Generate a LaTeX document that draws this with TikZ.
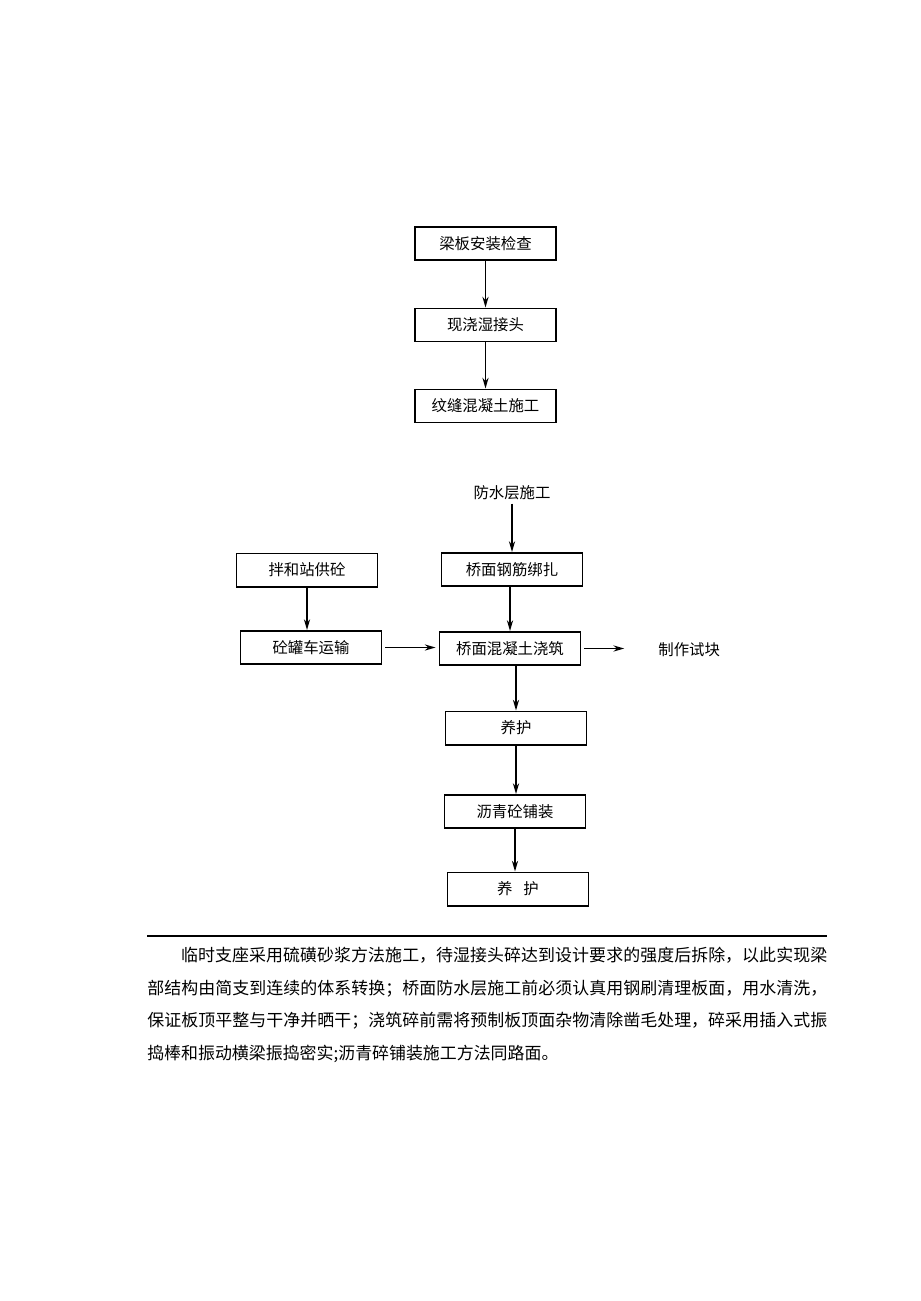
\documentclass[tikz,border=0pt]{standalone}
\usepackage{fontspec}
\setmainfont{Noto Sans CJK SC}
\usetikzlibrary{arrows,arrows.meta,positioning}
\XeTeXlinebreaklocale "zh"
\XeTeXlinebreakskip=0pt plus 2pt

\tikzset{
	stepbox/.style={draw,line width=1.1pt,minimum width=3.22cm,minimum height=0.76cm,inner sep=2pt,font=\fontsize{10pt}{12pt}\selectfont},
	plainlabel/.style={inner sep=2pt,font=\fontsize{10pt}{12pt}\selectfont},
	flow/.style={->,>={Stealth[length=7pt,width=4pt]},line width=1pt},
	notes/.style={inner sep=0pt,text width=15.52cm,align=justify,font=\fontsize{11pt}{21.2pt}\selectfont}
}

\begin{document}
\begin{tikzpicture}[x=0.022826cm,y=-0.022826cm]
	\useasboundingbox (0,0) rectangle (920,1301);

	% schema du haut
	\node [stepbox] (check) at (485.5,243.5) {梁板安装检查};
	\node [stepbox] (joint) at (485.5,325) {现浇湿接头};
	\node [stepbox] (seam) at (485.5,406) {纹缝混凝土施工};

	\draw [flow] (check) -- (joint);
	\draw [flow] (joint) -- (seam);

	% schema du bas
	\node [plainlabel] (water) at (512,493) {防水层施工};
	\node [stepbox] (steel) at (512,569.5) {桥面钢筋绑扎};
	\node [stepbox] (mix) at (307,570) {拌和站供砼};
	\node [stepbox] (truck) at (311,647.5) {砼罐车运输};
	\node [stepbox] (pour) at (510,648.5) {桥面混凝土浇筑};
	\node [plainlabel,anchor=west] (sample) at (655,650) {制作试块};
	\node [stepbox] (cure) at (516,728) {养护};
	\node [stepbox] (asphalt) at (515,811.5) {沥青砼铺装};
	\node [stepbox] (curelast) at (518,889) {养\hspace{0.7em}护};

	\draw [flow] (water) -- (steel);
	\draw [flow] (steel.south -| pour) -- (pour.north);
	\draw [flow] (mix.south) -- (mix.south |- truck.north);
	\draw [flow,shorten <=2pt,shorten >=2pt] (truck.east) -- (truck.east -| pour.west);
	\draw [flow,shorten <=2pt,shorten >=20pt] (pour.east) -- (pour.east -| sample.west);
	\draw [flow] (pour.south -| cure) -- (cure.north);
	\draw [flow] (cure.south) -- (cure.south |- asphalt.north);
	\draw [flow] (asphalt.south) -- (asphalt.south |- curelast.north);

	% texte
	\coordinate (ruleleft) at (147,936);
	\coordinate (ruleright) at (827,936);
	\draw [line width=0.8pt] (ruleleft) -- (ruleright);

	\node [notes,anchor=north west] (remarks) at (147,947) {\hspace*{2em}临时支座采用硫磺砂浆方法施工，待湿接头碎达到设计要求的强度后拆除，以此实现梁\linebreak 部结构由简支到连续的体系转换；桥面防水层施工前必须认真用钢刷清理板面，用水清洗，\linebreak 保证板顶平整与干净并晒干；浇筑碎前需将预制板顶面杂物清除凿毛处理，碎采用插入式振\linebreak 捣棒和振动横梁振捣密实;沥青碎铺装施工方法同路面。};
\end{tikzpicture}
\end{document}
